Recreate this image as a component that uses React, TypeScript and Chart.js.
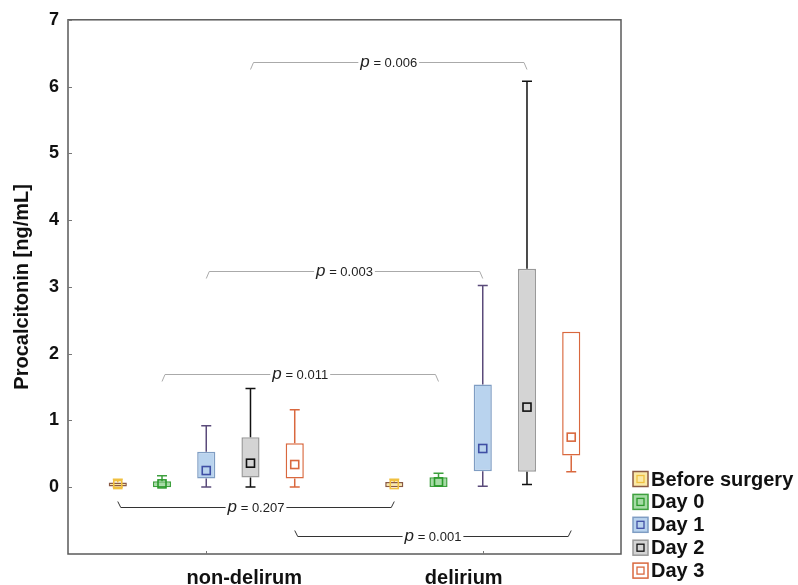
import React, { useEffect, useRef } from "react";
import { Chart, registerables } from "chart.js";

Chart.register(...registerables);

const FONT = "'Liberation Sans', Arial, sans-serif";

const groups = ["non-delirum", "delirium"];
const seriesNames = ["Before surgery", "Day 0", "Day 1", "Day 2", "Day 3"];

// per series: [non-delirium, delirium]
const minValues = [[0.0, 0.0], [0.01, 0.005], [0.005, 0.015], [0.005, 0.04], [0.005, 0.23]];
const q1Values = [[0.01, 0.0], [0.0, 0.005], [0.13, 0.24], [0.145, 0.23], [0.13, 0.475]];
const medianValues = [[0.04, 0.04], [0.05, 0.08], [0.25, 0.58], [0.36, 1.2], [0.34, 0.75]];
const q3Values = [[0.07, 0.08], [0.09, 0.15], [0.53, 1.54], [0.75, 3.27], [0.66, 2.33]];
const maxValues = [[0.12, 0.12], [0.17, 0.21], [0.92, 3.02], [1.48, 6.08], [1.16, 2.33]];

const yTicks = [0, 1, 2, 3, 4, 5, 6, 7];

const bracketLabels = ["0.006", "0.003", "0.011", "0.207", "0.001"];
const bracketSeries = [3, 2, 1, 0, 4];
const bracketLevels = [6.37, 3.245, 1.69, -0.29, -0.73];

const boxFill = ["#fbe9a6", "#a6dba6", "#b9d3ee", "#d4d4d4", "#ffffff"];
const boxBorder = ["#8a5a44", "#3ea03e", "#7f9dc3", "#9a9a9a", "#d9683e"];
const whiskerColor = ["#f0c040", "#3ea03e", "#5a4a7a", "#111111", "#d9683e"];
const medianColor = ["#f0c040", "#2a9a2a", "#3f4fa5", "#111111", "#d9683e"];

// horizontal shift of each category label relative to its tick (layout only)
const LABEL_SHIFT = [38, -19];

const boxPlugin = {
  id: "boxExtras",
  afterDatasetsDraw(chart: any) {
    const ctx = chart.ctx;
    const y = chart.scales.y;
    ctx.save();
    chart.data.datasets.forEach((_ds: any, s: number) => {
      const meta = chart.getDatasetMeta(s);
      meta.data.forEach((el: any, g: number) => {
        const x = el.x;
        const cap = 5;
        ctx.strokeStyle = whiskerColor[s];
        ctx.lineWidth = 1.5;
        const yMax = y.getPixelForValue(maxValues[s][g]);
        const yQ3 = y.getPixelForValue(q3Values[s][g]);
        const yQ1 = y.getPixelForValue(q1Values[s][g]);
        const yMin = y.getPixelForValue(minValues[s][g]);
        ctx.beginPath();
        if (yQ3 - yMax > 0.5) {
          ctx.moveTo(x, yQ3);
          ctx.lineTo(x, yMax);
          ctx.moveTo(x - cap, yMax);
          ctx.lineTo(x + cap, yMax);
        }
        if (yMin - yQ1 > 0.5) {
          ctx.moveTo(x, yQ1);
          ctx.lineTo(x, yMin);
          ctx.moveTo(x - cap, yMin);
          ctx.lineTo(x + cap, yMin);
        }
        ctx.stroke();
        const ym = y.getPixelForValue(medianValues[s][g]);
        ctx.strokeStyle = medianColor[s];
        ctx.lineWidth = 1.6;
        ctx.strokeRect(x - 4, ym - 4, 8, 8);
      });
    });
    ctx.restore();
  },
};

const framePlugin = {
  id: "frameBrackets",
  afterDraw(chart: any) {
    const ctx = chart.ctx;
    const a = chart.chartArea;
    const y = chart.scales.y;
    const xs = chart.scales.x;
    ctx.save();
    // frame
    ctx.strokeStyle = "#5a5a5a";
    ctx.lineWidth = 1.5;
    ctx.strokeRect(a.left, a.top, a.right - a.left, a.bottom - a.top);
    // inward ticks
    ctx.lineWidth = 1;
    ctx.strokeStyle = "#777";
    ctx.beginPath();
    yTicks.forEach((t) => {
      const py = Math.round(y.getPixelForValue(t)) + 0.5;
      ctx.moveTo(a.left, py);
      ctx.lineTo(a.left + 4, py);
    });
    groups.forEach((_g, i) => {
      const px = Math.round(xs.getPixelForValue(i)) + 0.5;
      ctx.moveTo(px, a.bottom);
      ctx.lineTo(px, a.bottom - 3);
    });
    ctx.stroke();

    // category labels
    ctx.fillStyle = "#111";
    ctx.font = `bold 20px ${FONT}`;
    ctx.textAlign = "center";
    ctx.textBaseline = "alphabetic";
    groups.forEach((g, i) => {
      ctx.fillText(g, xs.getPixelForValue(i) + LABEL_SHIFT[i], a.bottom + 30);
    });

    // significance brackets
    bracketLabels.forEach((lab, i) => {
      const meta = chart.getDatasetMeta(bracketSeries[i]);
      const x0 = meta.data[0].x;
      const x1 = meta.data[1].x;
      const ly = Math.round(y.getPixelForValue(bracketLevels[i])) + 0.5;
      const below = bracketLevels[i] < 0;
      const tail = below ? -6 : 7;
      const color = below ? "#333" : "#aaa";
      const mid = (x0 + x1) / 2;
      ctx.font = `italic 17px ${FONT}`;
      const pw = ctx.measureText("p").width;
      ctx.font = `13px ${FONT}`;
      const rest = " = " + lab;
      const rw = ctx.measureText(rest).width;
      const tw = pw + rw;
      const tx = mid - tw / 2;
      ctx.strokeStyle = color;
      ctx.lineWidth = 1;
      ctx.beginPath();
      ctx.moveTo(x0, ly + tail);
      ctx.lineTo(x0 + 3, ly);
      ctx.lineTo(tx - 2, ly);
      ctx.moveTo(tx + tw + 2, ly);
      ctx.lineTo(x1 - 3, ly);
      ctx.lineTo(x1, ly + tail);
      ctx.stroke();
      ctx.fillStyle = "#222";
      ctx.textBaseline = "alphabetic";
      ctx.textAlign = "left";
      const base = ly + 4.5;
      ctx.font = `italic 17px ${FONT}`;
      ctx.fillText("p", tx, base);
      ctx.font = `13px ${FONT}`;
      ctx.fillText(rest, tx + pw, base);
    });

    // legend
    const lx = 633;
    const ly0 = 479;
    const step = 22.9;
    seriesNames.forEach((name, s) => {
      const cy = ly0 + s * step;
      ctx.fillStyle = boxFill[s];
      ctx.fillRect(lx, cy - 7.5, 15, 15);
      ctx.strokeStyle = boxBorder[s];
      ctx.lineWidth = 1.5;
      ctx.strokeRect(lx, cy - 7.5, 15, 15);
      ctx.strokeStyle = medianColor[s];
      ctx.lineWidth = 1.3;
      ctx.strokeRect(lx + 4, cy - 3.5, 7, 7);
      ctx.fillStyle = "#111";
      ctx.font = `bold 20px ${FONT}`;
      ctx.textBaseline = "middle";
      ctx.textAlign = "left";
      ctx.fillText(name, lx + 18, cy + 1);
    });
    ctx.restore();
  },
};

export default function App() {
  const ref = useRef<HTMLCanvasElement | null>(null);
  useEffect(() => {
    if (!ref.current) return;
    const chart = new Chart(ref.current, {
      type: "bar",
      data: {
        labels: groups,
        datasets: seriesNames.map((name, s) => ({
          label: name,
          data: groups.map((_g, gi) => [q1Values[s][gi], q3Values[s][gi]]),
          backgroundColor: boxFill[s],
          borderColor: boxBorder[s],
          borderWidth: 1.5,
          borderSkipped: false,
          categoryPercentage: 0.8,
          barPercentage: 0.41,
        })),
      } as any,
      options: {
        animation: false,
        responsive: false,
        devicePixelRatio: 1,
        layout: { padding: { top: 15, right: 177, left: 0, bottom: 0 } },
        plugins: { legend: { display: false }, tooltip: { enabled: false } },
        scales: {
          x: {
            type: "category",
            grid: { display: false, drawTicks: false },
            border: { display: false },
            ticks: { display: false },
            afterFit: (sc: any) => {
              sc.height = 31;
            },
          },
          y: {
            min: -1,
            max: 7,
            grid: { display: false, drawTicks: false },
            border: { display: false },
            ticks: {
              stepSize: 1,
              font: { family: FONT, size: 18, weight: "bold" },
              color: "#111",
              padding: 9,
              callback: (v: any) => (yTicks.includes(Number(v)) ? String(v) : ""),
            },
            title: {
              display: true,
              text: "Procalcitonin [ng/mL]",
              font: { family: FONT, size: 20, weight: "bold" },
              color: "#111",
              padding: { top: 10, bottom: 0 },
            },
            afterFit: (sc: any) => {
              sc.width = 68;
            },
          },
        },
      } as any,
      plugins: [boxPlugin, framePlugin],
    });
    return () => chart.destroy();
  }, []);
  return (
    <div style={{ position: "absolute", left: 0, top: 0, width: 798, height: 585, background: "#fff" }}>
      <canvas ref={ref} width={798} height={585} />
    </div>
  );
}
